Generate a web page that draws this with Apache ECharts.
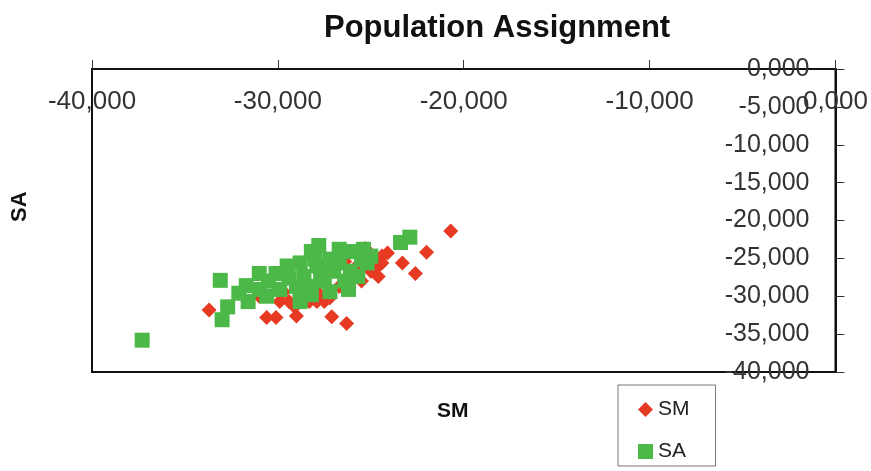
<!DOCTYPE html>
<html>
<head>
<meta charset="utf-8">
<script src="https://cdn.jsdelivr.net/npm/echarts@6/dist/echarts.min.js"></script>
<style>
html,body{margin:0;padding:0;background:#fff;}
#chart{width:871px;height:471px;}
</style>
</head>
<body>
<div id="chart"></div>
<script>
// SM series: [x, y]
const smPoints = [
  [-33700,-31800],[-30600,-32800],[-30100,-32800],[-29000,-32600],[-29500,-26200],
  [-27800,-29600],[-27200,-30200],[-27900,-30700],[-27100,-32700],[-26300,-33600],
  [-26000,-27600],[-25500,-28000],[-25300,-23700],[-24600,-26000],[-24400,-24700],
  [-24100,-24300],[-24600,-27400],[-23300,-25600],[-22600,-27000],[-22000,-24200],
  [-20700,-21400],[-29100,-31400],[-28300,-30700],[-29700,-29400],[-26700,-28700],
  [-25600,-26000],[-26400,-25400],[-29400,-30700],[-27500,-30700],[-25000,-26700],
  [-27200,-25400],[-28600,-27400],[-28000,-28700],[-25900,-26400],[-31000,-30000],
  [-29900,-30700],[-24400,-25600]
];
// SA series: [x, y]
const saPoints = [
  [-37300,-35800],[-33100,-27900],[-33000,-33100],[-32700,-31400],[-31700,-28600],
  [-31600,-30700],[-31000,-27000],[-31000,-29100],[-30500,-28000],[-30100,-27000],
  [-29900,-29100],[-29400,-27600],[-28800,-25600],[-28800,-29800],[-28200,-24100],
  [-28200,-29800],[-28600,-27400],[-27900,-26000],[-27800,-23300],[-27500,-28000],
  [-27200,-25100],[-28800,-30700],[-26700,-25600],[-26300,-24100],[-25800,-24100],
  [-26100,-26700],[-25500,-25100],[-25200,-25600],[-26400,-28000],[-27200,-29400],
  [-28300,-28700],[-27700,-27000],[-27000,-26700],[-25700,-27400],[-25000,-24700],
  [-23400,-22900],[-22900,-22200],[-29000,-28700],[-29500,-26000],[-28000,-25100],
  [-26700,-23800],[-25400,-23800],[-26200,-29100],[-32100,-29600],[-30600,-30000]
];
const seriesNames = ['SM', 'SA'];
const titleText = 'Population Assignment';
const xAxisName = 'SM';
const yAxisName = 'SA';
const xRange = [-40000, 0, 10000];
const yRange = [-40000, 0, 5000];

function fmt(v) {
  if (v === 0) return '0,000';
  const neg = v < 0;
  let s = String(Math.abs(Math.round(v)));
  s = s.replace(/\B(?=(\d{3})+(?!\d))/g, ',');
  return (neg ? '-' : '') + s;
}

const chart = echarts.init(document.getElementById('chart'));
const labelFont = 'Liberation Sans, Arial, sans-serif';
chart.setOption({
  backgroundColor: '#ffffff',
  animation: false,
  title: {
    text: titleText,
    left: 324, top: 13, padding: 0,
    textStyle: { fontFamily: labelFont, fontSize: 31, fontWeight: 'bold', color: '#111' }
  },
  grid: {
    left: 92, right: 33, top: 69, bottom: 99,
    show: true, borderColor: '#111', borderWidth: 2, backgroundColor: 'transparent'
  },
  legend: {
    data: [
      { name: seriesNames[0], icon: 'diamond' },
      { name: seriesNames[1], icon: 'rect' }
    ],
    orient: 'vertical',
    left: 618, top: 385,
    padding: [14, 26, 4, 20],
    itemGap: 21,
    itemWidth: 15, itemHeight: 15,
    borderColor: '#777', borderWidth: 1,
    textStyle: { fontFamily: labelFont, fontSize: 21, color: '#222' }
  },
  xAxis: {
    type: 'value', position: 'top',
    min: xRange[0], max: xRange[1], interval: xRange[2],
    axisLine: { show: true, onZero: false, lineStyle: { color: '#111', width: 2 } },
    axisTick: { show: true, inside: false, length: 9, lineStyle: { color: '#333', width: 1 } },
    axisLabel: { inside: true, margin: 20, formatter: fmt,
      fontFamily: labelFont, fontSize: 26, color: '#333' },
    splitLine: { show: false }
  },
  yAxis: {
    type: 'value', position: 'right',
    min: yRange[0], max: yRange[1], interval: yRange[2],
    axisLine: { show: true, onZero: false, lineStyle: { color: '#111', width: 2 } },
    axisTick: { show: true, inside: false, length: 9, lineStyle: { color: '#333', width: 1 } },
    axisLabel: { inside: true, margin: 26, formatter: fmt,
      fontFamily: labelFont, fontSize: 25, color: '#333' },
    splitLine: { show: false }
  },
  graphic: [
    { type: 'text', left: 437, top: 401,
      style: { text: xAxisName, font: 'bold 21px Liberation Sans, Arial, sans-serif', fill: '#111' } },
    { type: 'text', x: 9, y: 222, rotation: Math.PI / 2,
      style: { text: yAxisName, font: 'bold 22px Liberation Sans, Arial, sans-serif', fill: '#111' } }
  ],
  series: [
    {
      name: seriesNames[0], type: 'scatter', symbol: 'diamond', symbolSize: 15,
      itemStyle: { color: '#e63a22', opacity: 1 }, data: smPoints
    },
    {
      name: seriesNames[1], type: 'scatter', symbol: 'rect', symbolSize: 15,
      itemStyle: { color: '#4cb848', opacity: 1 }, data: saPoints
    }
  ]
});
</script>
</body>
</html>
